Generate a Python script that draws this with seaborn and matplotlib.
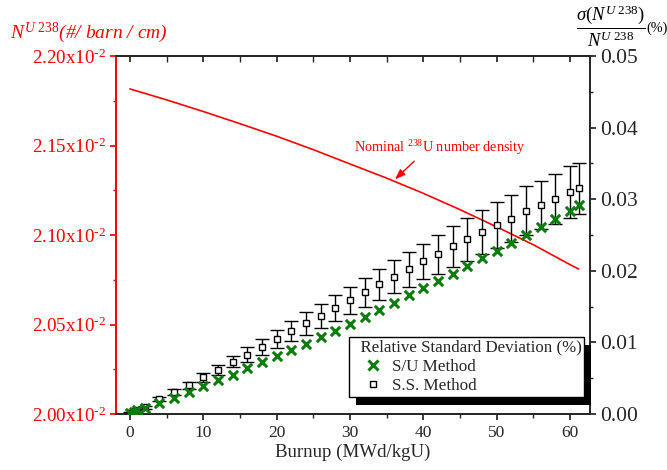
import numpy as np
import pandas as pd
import matplotlib
matplotlib.use("Agg")
import matplotlib.pyplot as plt
import matplotlib.patheffects as pe
from matplotlib.lines import Line2D
from matplotlib.ticker import MultipleLocator, FuncFormatter
import seaborn as sns

# DATA
burnup = [0, 0.5, 1, 2, 4, 6, 8, 10, 12, 14, 16, 18, 20, 22, 24, 26, 28, 30,
          32, 34, 36, 38, 40, 42, 44, 46, 48, 50, 52, 54, 56, 58, 60, 61.2]
rsd_su = [0.0002, 0.0003, 0.0005, 0.0008, 0.0015, 0.0023, 0.0031, 0.0039,
          0.0047, 0.0055, 0.0064, 0.0072, 0.0081, 0.0089, 0.0098, 0.0107,
          0.0116, 0.0126, 0.0136, 0.0145, 0.0155, 0.0166, 0.0176, 0.0186,
          0.0196, 0.0207, 0.0218, 0.0228, 0.0239, 0.0250, 0.0261, 0.0272,
          0.0284, 0.0292]
rsd_ss = [0.0002, 0.0004, 0.0006, 0.00093, 0.00205, 0.0031, 0.0040, 0.0051,
          0.0061, 0.0073, 0.0083, 0.0094, 0.0105, 0.0116, 0.0127, 0.0137,
          0.0148, 0.0159, 0.0170, 0.0181, 0.0192, 0.0202, 0.0213, 0.0223,
          0.0234, 0.0244, 0.0254, 0.0264, 0.0273, 0.0284, 0.0292, 0.0300,
          0.0310, 0.0315]
rsd_ss_err = [0.00005, 0.0001, 0.00012, 0.0002, 0.0003, 0.0004, 0.0005,
              0.0006, 0.0007, 0.0008, 0.0010, 0.0011, 0.0013, 0.0014, 0.0016,
              0.0017, 0.0018, 0.0019, 0.0020, 0.0022, 0.0023, 0.0024, 0.0025,
              0.0027, 0.0028, 0.0030, 0.0031, 0.0032, 0.0033, 0.0034, 0.0034,
              0.0035, 0.0036, 0.0036]

line_burnup = [0, 5, 10, 15, 20, 25, 30, 35, 40, 45, 50, 55, 60, 61.2]
line_density = [2.1816e-2, 2.1755e-2, 2.1690e-2, 2.1622e-2, 2.1552e-2,
                2.1477e-2, 2.1397e-2, 2.1318e-2, 2.1233e-2, 2.1142e-2,
                2.1046e-2, 2.0946e-2, 2.0835e-2, 2.0810e-2]

df = pd.DataFrame({"burnup": burnup, "su": rsd_su, "ss": rsd_ss, "err": rsd_ss_err})
df_line = pd.DataFrame({"burnup": line_burnup, "density": line_density})

# STYLE
sns.set_theme(style="ticks")
plt.rcParams["font.family"] = ["Liberation Serif", "DejaVu Serif"]
plt.rcParams["mathtext.fontset"] = "custom"
plt.rcParams["mathtext.rm"] = "Liberation Serif"
plt.rcParams["mathtext.it"] = "Liberation Serif:italic"
plt.rcParams["mathtext.bf"] = "Liberation Serif:bold"

red = "#ff0000"
green = "#0a7d0a"

fig = plt.figure(figsize=(6.67, 4.70), dpi=100)
ax = fig.add_axes([116 / 667, 1 - 414 / 470, 474 / 667, 358 / 470])
ax2 = ax.twinx()

# NOMINAL DENSITY LINE (left axis)
sns.lineplot(data=df_line, x="burnup", y="density", ax=ax, color=red, lw=1.2)
ax.set_xlim(-1.9, 62.75)
ax.set_ylim(2.0e-2, 2.2e-2)
ax.yaxis.set_major_locator(MultipleLocator(0.05e-2))
ax.yaxis.set_minor_locator(MultipleLocator(0.025e-2))
ax.yaxis.set_major_formatter(FuncFormatter(lambda v, p: f"{v*100:.2f}x10" + r"$^{\text{-}2}$"))
ax.xaxis.set_major_locator(MultipleLocator(10))
ax.xaxis.set_minor_locator(MultipleLocator(5))
ax.set_xlabel("Burnup (MWd/kgU)", fontsize=13.6, labelpad=2)
ax.set_ylabel("")
ax.spines["left"].set_color(red)
ax.tick_params(axis="y", which="both", colors=red, labelsize=13.7, direction="out", pad=3)
ax.tick_params(axis="y", which="major", length=4)
ax.tick_params(axis="y", which="minor", length=2.5)
ax.tick_params(axis="x", which="both", labelsize=12.5, direction="out", length=4, pad=4)
ax.tick_params(axis="x", which="minor", length=3)

top = ax.secondary_xaxis("top")
top.xaxis.set_major_locator(MultipleLocator(10))
top.xaxis.set_minor_locator(MultipleLocator(5))
top.tick_params(which="both", direction="in", labeltop=False, length=4)

ax.annotate("Nominal $^{238}$U number density", xy=(36.15, 2.1311e-2),
            xytext=(42.2, 2.1464e-2), color=red, fontsize=10.2,
            ha="center", va="baseline",
            arrowprops=dict(arrowstyle="-|>,head_length=0.6,head_width=0.22",
                            color=red, lw=1, relpos=(0.38, 0), shrinkA=1, shrinkB=0))

# RSD POINTS (right axis)
ax2.errorbar(df["burnup"], df["ss"], yerr=df["err"], fmt="s", ms=5, mfc="white",
             mec="black", mew=1, ecolor="black", elinewidth=1, capsize=5,
             capthick=1, zorder=2)
sns.scatterplot(data=df, x="burnup", y="su", ax=ax2, marker="x", s=45,
                color=green, linewidth=2.2, zorder=3)
ax2.set_ylim(0, 0.05)
ax2.yaxis.set_major_locator(MultipleLocator(0.01))
ax2.yaxis.set_minor_locator(MultipleLocator(0.005))
ax2.yaxis.set_major_formatter(FuncFormatter(lambda v, p: f"{v:.2f}"))
ax2.set_ylabel("")
ax2.tick_params(axis="y", which="both", labelsize=15.5, direction="out")
ax2.tick_params(axis="y", which="major", length=4)
ax2.tick_params(axis="y", which="minor", length=2.5)
ax2.spines["left"].set_color(red)

handles = [Line2D([], [], ls="none", marker="x", ms=7, mew=2.2, color=green),
           Line2D([], [], ls="none", marker="s", ms=5, mfc="white", mec="black", mew=1)]
leg = ax2.legend(handles, ["S/U Method", "S.S. Method"],
                 title="  Relative Standard Deviation (%)", loc="upper left",
                 bbox_to_anchor=(0.4916, 0.215), borderaxespad=0, fontsize=12.3,
                 title_fontsize=12.2, fancybox=False, framealpha=1,
                 edgecolor="black", handlelength=2.5, handletextpad=-0.15,
                 labelspacing=0.2, borderpad=0.15, alignment="left")
leg.get_frame().set_linewidth(1)
leg.get_frame().set_path_effects([pe.SimplePatchShadow(offset=(5, -5.5), shadow_rgbFace="black", alpha=1),
                                  pe.Normal()])

# AXIS TITLES
fig.text(10 / 667, 1 - 33 / 470, r"$N^{U\ \mathrm{238}}$(#/ $barn$ / $cm$)",
         color=red, fontsize=14, fontstyle="italic", ha="left", va="center")
fig.text(576 / 667, 1 - 26 / 470, r"$\dfrac{\sigma(N^{U\ \mathrm{238}})}{N^{U\ \mathrm{238}}}$",
         color="black", fontsize=13.4, ha="left", va="center")
fig.text(646 / 667, 1 - 28 / 470, "(%)", color="black", fontsize=10.3,
         ha="left", va="center")

fig.savefig("out.png", dpi=100)
